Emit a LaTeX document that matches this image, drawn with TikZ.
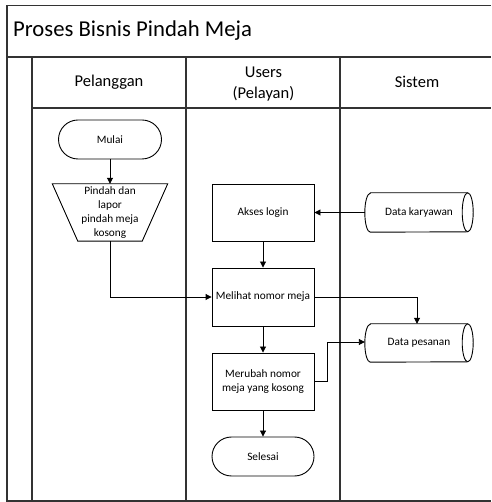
\documentclass[tikz,border=0pt]{standalone}
\usepackage{fontspec}
\setmainfont{Carlito}
\usetikzlibrary{arrows.meta,shapes.misc,calc}
\begin{document}
\begin{tikzpicture}[x=1pt,y=1pt,
  frame/.style={line width=1.2pt,draw=black!80},
  flow/.style={line width=0.9pt,draw=black},
  arr/.style={line width=0.9pt,-{Triangle[length=6pt,width=6pt]}},
  small/.style={font=\fontsize{11.3}{14}\selectfont,align=center},
  head/.style={font=\fontsize{16.5}{21}\selectfont,align=center},
  procbox/.style={flow,draw,rectangle,minimum width=102pt,minimum height=57pt,inner sep=0pt,small},
  term/.style={flow,draw,rounded rectangle,minimum width=102pt,minimum height=39pt,inner sep=0pt,small},
  ghost/.style={rectangle,draw=none,inner sep=0pt,small}
]
\useasboundingbox (0,0) rectangle (491,502);
\fill[white] (0,0) rectangle (491,502);
% frame (open on the right: it runs past the picture edge)
\draw[frame] (491,496.5) -- (7,496.5) -- (7,1) -- (491,1);
\draw[frame] (7,445) -- (491,445);
\draw[frame] (32,394) -- (491,394);
\draw[frame] (32,445) -- (32,1);
\draw[frame] (186,445) -- (186,1);
\draw[frame] (340,445) -- (340,1);
\node[anchor=west,font=\fontsize{22.7}{26}\selectfont,inner sep=0pt] (title) at (13,471) {Proses Bisnis Pindah Meja};
\node[head] (h1) at (109,420) {Pelanggan};
\node[head] (h2) at (263.5,418) {Users\\(Pelayan)};
\node[head] (h3) at (417,420) {Sistem};
% nodes
\node[term,minimum width=103pt] (mulai) at (110,362.5) {Mulai};
\node[ghost,minimum width=115pt,minimum height=57pt] (trap) at (110,289.5) {Pindah dan\\lapor\\pindah meja\\kosong};
\draw[flow] (trap.north west) -- (trap.north east) -- ($(trap.south east)+(-25.5,0)$) -- ($(trap.south west)+(25.5,0)$) -- cycle;
\node[procbox] (akses) at (263,289.5) {Akses login};
\node[procbox,minimum height=58pt] (melihat) at (263,205) {Melihat nomor meja};
\node[procbox] (merubah) at (263,120.5) {Merubah nomor\\meja yang kosong};
\node[term] (selesai) at (263,45.5) {Selesai};
\node[ghost,minimum width=108pt,minimum height=39pt] (dk) at (419,289.5) {Data karyawan};
\node[ghost,minimum width=108pt,minimum height=38pt] (dp) at (419,159) {Data pesanan};
\foreach \n/\b in {dk/19.5,dp/19} {
  \draw[flow] ([xshift=5.5pt]\n.north west) -- ([xshift=-5.5pt]\n.north east)
     arc[start angle=90,end angle=-90,x radius=5.5pt,y radius=\b pt]
     -- ([xshift=5.5pt]\n.south west)
     arc[start angle=270,end angle=90,x radius=5.5pt,y radius=\b pt] -- cycle;
  \draw[flow] ([xshift=-5.5pt]\n.north east) arc[start angle=90,end angle=270,x radius=5.5pt,y radius=\b pt];
}
% connectors
\draw[arr] (mulai.south) -- (trap.north);
\draw[arr] (trap.south) |- (melihat.west);
\draw[arr] (dk.west) -- (akses.east);
\draw[arr] (akses.south) -- (melihat.north);
\draw[arr] (melihat.east) -| ([xshift=-2pt]dp.north);
\draw[arr] (melihat.south) -- (merubah.north);
\draw[arr] (merubah.east) -- ++(13,0) |- ([yshift=1pt]dp.west);
\draw[arr] (merubah.south) -- (selesai.north);
\end{tikzpicture}
\end{document}
